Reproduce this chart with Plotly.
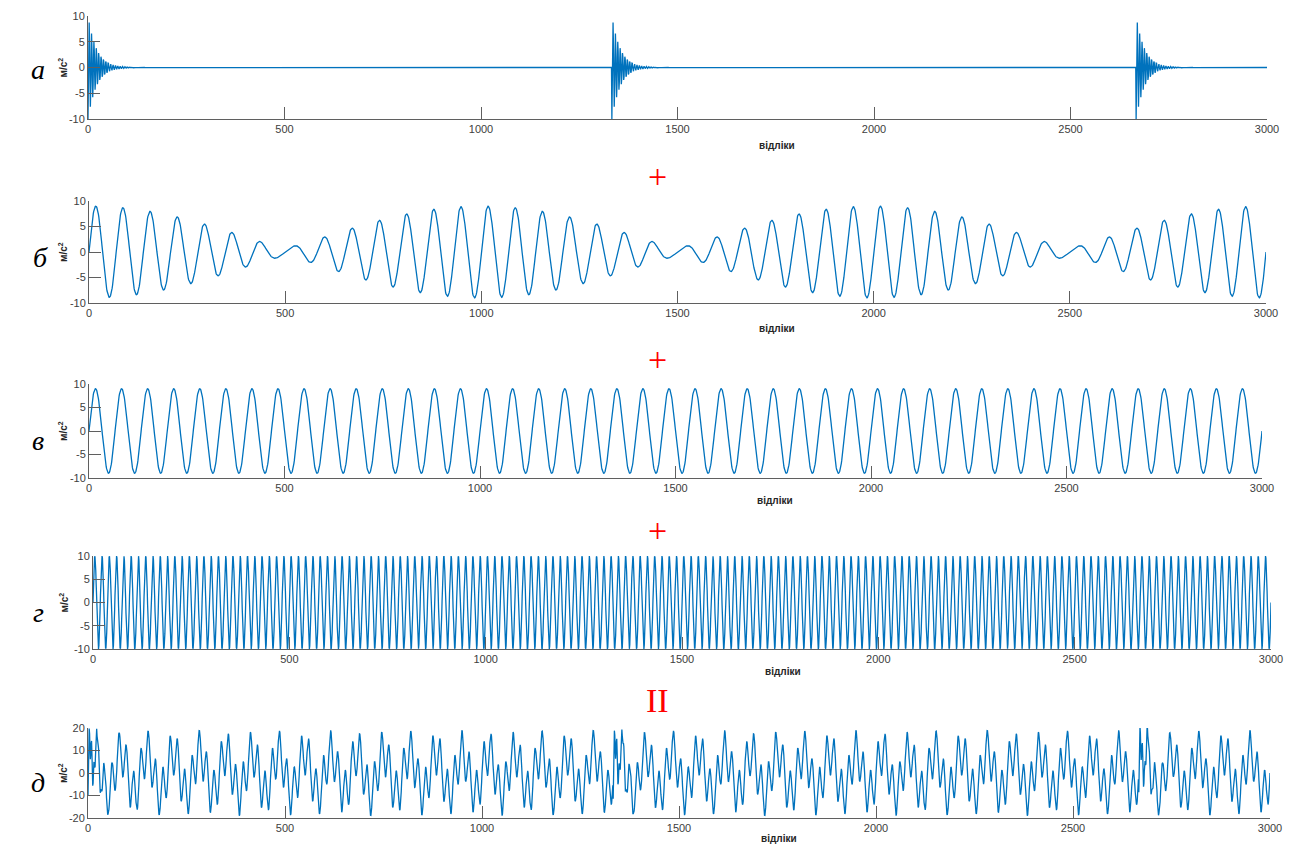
import numpy as np
import plotly.graph_objects as go

# ---------------- data ----------------
N_SAMPLES = 3000            # samples on the x axis ("відліки")
SAMPLE_RATE = 1000          # samples per second (frequencies below in Hz)
X_TICKS = [0, 500, 1000, 1500, 2000, 2500, 3000]
Y_TICKS_10 = [-10, -5, 0, 5, 10]
Y_TICKS_20 = [-20, -10, 0, 10, 20]
PANEL_LETTERS = ["а", "б", "в", "г", "д"]
JOIN_SIGNS = ["+", "+", "+", "II"]
X_LABEL = "відліки"
Y_LABEL = "м/с<sup>2</sup>"

# а: decaying impulse bursts
BURST_STARTS = [0, 1333, 2667]
BURST_AMP = 10.0
BURST_DECAY = 22.0          # samples
BURST_FREQ = 165.0          # Hz

# б: beating pair of sines
B_FREQS = [14.0, 15.0]
B_AMPS = [5.0, 4.0]

# в: single sine
V_FREQ = 15.0
V_AMP = 9.0

# г: fast sine
G_FREQ = 54.0
G_AMP = 10.0

# д: as drawn, the sum of а, в and г (swing stays within about ±19)
D_PARTS = ["а", "в", "г"]

# ---------------- signals ----------------
n = np.arange(N_SAMPLES + 1)
t = n / SAMPLE_RATE

sig_a = np.zeros_like(t)
for s in BURST_STARTS:
    k = n - s
    m = k >= 0
    sig_a[m] += -BURST_AMP * np.exp(-k[m] / BURST_DECAY) * np.cos(2 * np.pi * BURST_FREQ * k[m] / SAMPLE_RATE)

sig_b = sum(a * np.sin(2 * np.pi * f * t) for f, a in zip(B_FREQS, B_AMPS))
sig_v = V_AMP * np.sin(2 * np.pi * V_FREQ * t)
sig_g = G_AMP * np.sin(2 * np.pi * G_FREQ * t)
parts = {"а": sig_a, "б": sig_b, "в": sig_v, "г": sig_g}
sig_d = sum(parts[p] for p in D_PARTS)

signals = [sig_a, sig_b, sig_v, sig_g, sig_d]

# ---------------- layout ----------------
W, H = 1291, 845
# pixel boxes (left, right, top, bottom) of each plot area
boxes = [
    (88, 1267, 16, 119),
    (89, 1266, 201, 303),
    (89, 1262, 384, 478),
    (93, 1271, 556, 649),
    (88, 1270, 728, 818),
]
xlabel_pos = [(777, 145), (777, 328), (775, 500), (783, 671), (779, 838)]
letter_pos = [(38, 70), (40, 257), (38, 441), (38, 612), (38, 782)]
sign_pos = [(657, 176), (657, 359), (657, 530), (657, 700)]

LINE = "#0072BD"
AX = "#5f5f5f"
TXT = "#404040"

fig = go.Figure()
layout = dict(
    width=W, height=H,
    margin=dict(l=0, r=0, t=0, b=0, pad=0),
    paper_bgcolor="white", plot_bgcolor="white",
    showlegend=False,
)
annotations = []

for i, (sig, (l, r, tp, bt)) in enumerate(zip(signals, boxes)):
    xa = "x" if i == 0 else f"x{i+1}"
    ya = "y" if i == 0 else f"y{i+1}"
    fig.add_trace(go.Scatter(x=n, y=sig, mode="lines", xaxis=xa, yaxis=ya,
                             line=dict(color=LINE, width=1.3), hoverinfo="skip"))
    yt = Y_TICKS_20 if i == 4 else Y_TICKS_10
    common = dict(showgrid=False, zeroline=False, showline=True, linecolor=AX, linewidth=1,
                  ticks="inside", ticklen=12, tickwidth=1, tickcolor=AX, automargin=False,
                  tickfont=dict(family="Liberation Sans", size=11, color=TXT))
    layout["xaxis" if i == 0 else f"xaxis{i+1}"] = dict(
        domain=[l / W, r / W], anchor=ya, range=[0, N_SAMPLES],
        tickvals=X_TICKS, ticktext=[str(v) for v in X_TICKS], **common)
    layout["yaxis" if i == 0 else f"yaxis{i+1}"] = dict(
        domain=[1 - bt / H, 1 - tp / H], anchor=xa, range=[yt[0], yt[-1]],
        tickvals=yt, ticktext=[str(v) for v in yt], **common)

    # x label
    xl, yl = xlabel_pos[i]
    annotations.append(dict(x=xl / W, y=1 - yl / H, xref="paper", yref="paper",
                            text=f"<b>{X_LABEL}</b>", showarrow=False,
                            xanchor="center", yanchor="middle",
                            font=dict(family="Liberation Sans", size=10, color="#262626")))
    # y label
    annotations.append(dict(x=63 / W, y=1 - ((tp + bt) / 2) / H, xref="paper", yref="paper",
                            text=f"<b>{Y_LABEL}</b>", showarrow=False, textangle=-90,
                            xanchor="center", yanchor="middle",
                            font=dict(family="Liberation Sans", size=10, color="#262626")))
    # panel letter
    lx, ly = letter_pos[i]
    annotations.append(dict(x=lx / W, y=1 - ly / H, xref="paper", yref="paper",
                            text=f"<i>{PANEL_LETTERS[i]}</i>", showarrow=False,
                            xanchor="center", yanchor="middle",
                            font=dict(family="Liberation Serif", size=28, color="black")))

for s, (sx, sy) in zip(JOIN_SIGNS, sign_pos):
    annotations.append(dict(x=sx / W, y=1 - sy / H, xref="paper", yref="paper",
                            text=s, showarrow=False, xanchor="center", yanchor="middle",
                            font=dict(family="Liberation Serif", size=34, color="#ff0000")))

layout["annotations"] = annotations
fig.update_layout(**layout)
fig.write_html(
    "out.html",
    config={"displayModeBar": False},
    post_script=(
        "document.body.style.margin='0';document.body.style.padding='0';"
        "document.documentElement.style.overflow='hidden';document.body.style.overflow='hidden';"
    ),
)
